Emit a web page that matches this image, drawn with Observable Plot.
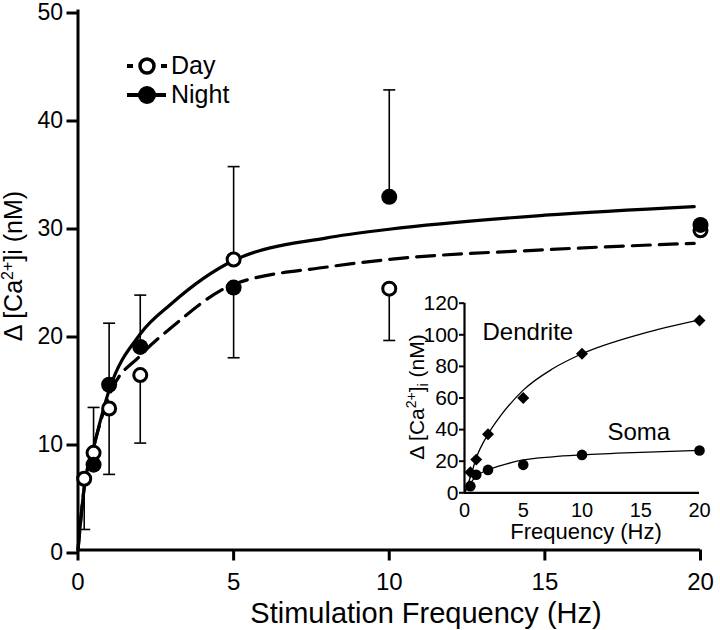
<!DOCTYPE html>
<html>
<head>
<meta charset="utf-8">
<script src="https://cdn.jsdelivr.net/npm/d3@7"></script>
<script src="https://cdn.jsdelivr.net/npm/@observablehq/plot@0.6"></script>
<style>
  body { margin: 0; background: #fff; }
  #wrap { position: relative; width: 720px; height: 630px; font-family: "Liberation Sans", Arial, Helvetica, sans-serif; }
  #main { position: absolute; left: 0; top: 0; }
  #inset { position: absolute; left: 400px; top: 290px; }
</style>
</head>
<body>
<div id="wrap"><div id="main"></div><div id="inset"></div></div>
<script>
// ---------- Main chart data ----------
const xTicks = [0, 5, 10, 15, 20];
const yTicks = [0, 10, 20, 30, 40, 50];

const dayFreq = [0.2, 0.5, 1, 2, 5, 10, 20];
const dayMean = [6.6, 9.0, 13.1, 16.2, 26.9, 24.2, 29.6];
const dayBarEnd = [1.9, 13.2, 7.0, 9.9, 35.5, 19.4, null];

const nightFreq = [0.5, 1, 2, 5, 10, 20];
const nightMean = [7.9, 15.3, 18.8, 24.3, 32.7, 30.1];
const nightBarEnd = [null, 21.0, 23.6, 17.8, 42.6, null];

const fitFreq = [0, 0.2, 0.5, 1, 2, 3, 5, 8, 10, 15, 19.8];
const dayFit = [0, 5.8, 9.5, 14.3, 18.0, 20.6, 24.6, 26.2, 26.9, 27.8, 28.4];
const nightFit = [0, 5.8, 9.5, 14.8, 20.0, 22.8, 26.8, 28.9, 29.7, 31.0, 31.8];

const legendLabels = ["Day", "Night"];
const xTitle = "Stimulation Frequency (Hz)";

// ---------- Inset data ----------
const insetXTicks = [0, 5, 10, 15, 20];
const insetYTicks = [0, 20, 40, 60, 80, 100, 120];
const insetFreq = [0.5, 1, 2, 5, 10, 20];
const dendrite = [13, 21, 37, 60, 88, 109];
const soma = [4.2, 11.4, 14.5, 17.7, 24.0, 26.8];
const insetFitFreq = [0, 0.5, 1, 2, 3, 5, 7.5, 10, 15, 20];
const dendriteFit = [0, 10, 22, 37, 48, 65, 78.5, 88, 100.5, 109.5];
const somaFit = [0, 6, 10.5, 14.5, 17, 20.8, 22.8, 24.0, 25.6, 26.8];
const insetLabels = ["Dendrite", "Soma"];
const insetXTitle = "Frequency (Hz)";

// ---------- Build tables ----------
const FONT = '"Liberation Sans", Arial, Helvetica, sans-serif';
const dayRows = dayFreq.map((f, i) => ({f, y: dayMean[i], e: dayBarEnd[i]}));
const nightRows = nightFreq.map((f, i) => ({f, y: nightMean[i], e: nightBarEnd[i]}));
const dayBars = dayRows.filter(d => d.e != null);
const nightBars = nightRows.filter(d => d.e != null);
const dayCurve = fitFreq.map((f, i) => ({f, y: dayFit[i]}));
const nightCurve = fitFreq.map((f, i) => ({f, y: nightFit[i]}));

const capSymbol = {
  draw(ctx, size) {
    const w = Math.sqrt(size / Math.PI);
    ctx.moveTo(-w, 0);
    ctx.lineTo(w, 0);
  }
};

const main = Plot.plot({
  width: 720,
  height: 630,
  marginLeft: 77.5,
  marginRight: 20,
  marginTop: 9.5,
  marginBottom: 80.5,
  style: {fontFamily: FONT, background: "transparent", color: "#000"},
  x: {domain: [0, 20]},
  y: {domain: [0, 50]},
  marks: [
    Plot.axisX({ticks: xTicks, tickSize: 11, tickPadding: 12, strokeWidth: 3, fontSize: 24, label: null}),
    Plot.axisY({ticks: yTicks, tickSize: 11, tickPadding: 4, strokeWidth: 3, fontSize: 23, label: null, dy: 3}),
    Plot.ruleY([0], {strokeWidth: 3}),
    Plot.ruleX([0], {strokeWidth: 3}),
    Plot.line(nightCurve, {x: "f", y: "y", curve: "monotone-x", strokeWidth: 3.2, stroke: "#000"}),
    Plot.line(dayCurve, {x: "f", y: "y", curve: "monotone-x", strokeWidth: 3.2, stroke: "#000", strokeDasharray: "18,9"}),
    Plot.ruleX(dayBars, {x: "f", y1: "y", y2: "e", strokeWidth: 1.6}),
    Plot.dot(dayBars, {x: "f", y: "e", symbol: capSymbol, r: 6, fill: "none", stroke: "#000", strokeWidth: 1.6}),
    Plot.ruleX(nightBars, {x: "f", y1: "y", y2: "e", strokeWidth: 1.6}),
    Plot.dot(nightBars, {x: "f", y: "e", symbol: capSymbol, r: 6, fill: "none", stroke: "#000", strokeWidth: 1.6}),
    Plot.dot(dayRows, {x: "f", y: "y", r: 6.5, fill: "white", stroke: "#000", strokeWidth: 3}),
    Plot.dot(nightRows, {x: "f", y: "y", r: 8, fill: "#000", stroke: "none"})
  ]
});
document.getElementById("main").appendChild(main);

// Titles and legend on the main SVG
const msvg = d3.select(main);
msvg.append("text")
  .attr("x", 426).attr("y", 623)
  .attr("text-anchor", "middle")
  .attr("font-size", 29).attr("font-family", FONT).attr("fill", "#000")
  .text(xTitle);

const yt = msvg.append("text")
  .attr("transform", "translate(22,266) rotate(-90)")
  .attr("text-anchor", "middle")
  .attr("font-size", 25).attr("font-family", FONT).attr("fill", "#000");
yt.append("tspan").text("\u0394 [Ca");
yt.append("tspan").attr("font-size", 16).attr("dy", -9).text("2+");
yt.append("tspan").attr("dy", 9).text("]i (nM)");

const lg = msvg.append("g").attr("font-family", FONT).attr("font-size", 25).attr("fill", "#000").attr("text-anchor", "start");
// Day entry
lg.append("line").attr("x1", 127).attr("x2", 133).attr("y1", 66).attr("y2", 66).attr("stroke", "#000").attr("stroke-width", 4);
lg.append("line").attr("x1", 161).attr("x2", 167).attr("y1", 66).attr("y2", 66).attr("stroke", "#000").attr("stroke-width", 4);
lg.append("circle").attr("cx", 147).attr("cy", 66).attr("r", 7).attr("fill", "#fff").attr("stroke", "#000").attr("stroke-width", 3.5);
lg.append("text").attr("x", 171).attr("y", 74).attr("text-anchor", "start").text(legendLabels[0]);
// Night entry
lg.append("line").attr("x1", 127).attr("x2", 166).attr("y1", 95).attr("y2", 95).attr("stroke", "#000").attr("stroke-width", 4);
lg.append("circle").attr("cx", 147).attr("cy", 95).attr("r", 9).attr("fill", "#000");
lg.append("text").attr("x", 171).attr("y", 103).attr("text-anchor", "start").text(legendLabels[1]);

// ---------- Inset ----------
const insetPts = insetFreq.map((f, i) => ({f, d: dendrite[i], s: soma[i]}));
const insetCurves = insetFitFreq.map((f, i) => ({f, d: dendriteFit[i], s: somaFit[i]}));

const inset = Plot.plot({
  width: 320,
  height: 255,
  marginLeft: 64,
  marginRight: 21,
  marginTop: 12.7,
  marginBottom: 52.7,
  style: {fontFamily: FONT, background: "transparent", color: "#000"},
  x: {domain: [0, 20]},
  y: {domain: [0, 120]},
  marks: [
    Plot.axisX({ticks: insetXTicks, tickSize: 0, tickPadding: 10, fontSize: 20, label: null}),
    Plot.axisY({ticks: insetYTicks, tickSize: 5, tickPadding: 1, strokeWidth: 2, fontSize: 21, label: null}),
    Plot.ruleY([0], {strokeWidth: 2.2}),
    Plot.ruleX([0], {strokeWidth: 2.2}),
    Plot.line(insetCurves, {x: "f", y: "d", curve: "monotone-x", strokeWidth: 1.3}),
    Plot.line(insetCurves, {x: "f", y: "s", curve: "monotone-x", strokeWidth: 1.3}),
    Plot.dot(insetPts, {x: "f", y: "d", symbol: "diamond2", r: 5.4, fill: "#000", stroke: "none"}),
    Plot.dot(insetPts, {x: "f", y: "s", r: 5.3, fill: "#000", stroke: "none"}),
    Plot.text([insetLabels[0]], {text: d => d, frameAnchor: "top-left", dx: 18, dy: 20, textAnchor: "start", lineAnchor: "top", fontSize: 24}),
    Plot.text([insetLabels[1]], {text: d => d, frameAnchor: "top-left", dx: 143, dy: 120, textAnchor: "start", lineAnchor: "top", fontSize: 24})
  ]
});
document.getElementById("inset").appendChild(inset);

const isvg = d3.select(inset);
isvg.append("text")
  .attr("x", 186).attr("y", 249)
  .attr("text-anchor", "middle")
  .attr("font-size", 22).attr("font-family", FONT).attr("fill", "#000")
  .text(insetXTitle);
const it = isvg.append("text")
  .attr("transform", "translate(24,107) rotate(-90)")
  .attr("text-anchor", "middle")
  .attr("font-size", 21).attr("font-family", FONT).attr("fill", "#000");
it.append("tspan").text("\u0394 [Ca");
it.append("tspan").attr("font-size", 14).attr("dy", -8).text("2+");
it.append("tspan").attr("dy", 8).text("]");
it.append("tspan").attr("font-size", 14).attr("dy", 4).text("i");
it.append("tspan").attr("dy", -4).text(" (nM)");
</script>
</body>
</html>
